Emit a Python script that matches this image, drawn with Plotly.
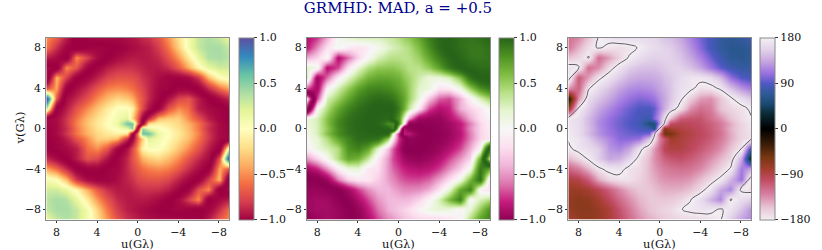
import numpy as np
import plotly.graph_objects as go
from plotly.colors import sample_colorscale
from plotly.colors import diverging

# grid of the uv plane, in G-lambda (finer around the origin)
u = [9, 8, 7, 6, 5, 4, 3, 2, 1, 0.5, 0, -0.5, -1, -2, -3, -4, -5, -6, -7, -8, -9]
v = [9, 8, 7, 6, 5, 4, 3, 2, 1, 0.5, 0, -0.5, -1, -2, -3, -4, -5, -6, -7, -8, -9]

# visibility phase, unwrapped to 0..360 degrees
# (180 is the white wrap line of the right panel)
phase = [
    [240, 228, 205, 178, 170, 165, 165, 165, 162, 160, 155, 150, 147, 135, 118, 100, 85, 72, 68, 72, 82],
    [235, 212, 190, 177, 187, 190, 186, 178, 168, 165, 162, 158, 155, 143, 125, 105, 85, 72, 66, 66, 72],
    [205, 195, 178, 240, 218, 195, 178, 165, 158, 157, 157, 158, 157, 150, 135, 118, 98, 80, 68, 66, 70],
    [168, 176, 240, 225, 190, 170, 155, 148, 147, 147, 150, 153, 157, 157, 148, 133, 113, 93, 80, 74, 74],
    [165, 250, 218, 185, 168, 153, 140, 135, 135, 137, 140, 147, 152, 163, 172, 172, 165, 145, 110, 90, 85],
    [225, 245, 183, 163, 148, 133, 123, 120, 123, 127, 133, 140, 150, 168, 172, 190, 188, 175, 150, 128, 115],
    [350, 225, 165, 150, 135, 120, 110, 103, 107, 113, 125, 135, 150, 172, 200, 220, 225, 205, 183, 165, 150],
    [290, 178, 155, 135, 120, 108, 97, 88, 88, 95, 118, 138, 160, 190, 225, 240, 233, 205, 195, 188, 175],
    [172, 165, 145, 125, 110, 100, 92, 85, 78, 105, 130, 170, 210, 250, 255, 255, 240, 225, 205, 190, 182],
    [172, 165, 145, 122, 108, 98, 90, 82, 55, 55, 125, 185, 260, 265, 262, 257, 248, 235, 215, 195, 184],
    [175, 165, 148, 125, 110, 100, 93, 88, 80, 60, 180, 300, 280, 272, 267, 260, 250, 235, 212, 195, 185],
    [176, 165, 145, 125, 112, 103, 98, 95, 100, 175, 235, 305, 305, 278, 270, 262, 252, 238, 215, 195, 188],
    [178, 170, 155, 135, 120, 105, 105, 110, 150, 190, 230, 255, 282, 275, 268, 260, 250, 235, 215, 195, 188],
    [185, 172, 165, 155, 127, 120, 135, 170, 200, 222, 242, 265, 272, 272, 263, 252, 240, 225, 205, 182, 70],
    [210, 195, 177, 155, 135, 140, 160, 188, 210, 225, 235, 247, 253, 257, 250, 240, 225, 210, 195, 135, 10],
    [245, 232, 210, 185, 172, 170, 188, 192, 210, 220, 227, 233, 237, 240, 237, 227, 212, 197, 177, 115, 135],
    [275, 270, 250, 215, 195, 188, 188, 197, 208, 213, 220, 223, 225, 225, 220, 207, 192, 175, 142, 110, 195],
    [286, 286, 280, 267, 247, 227, 212, 203, 203, 207, 210, 213, 213, 212, 205, 190, 170, 135, 120, 184, 192],
    [290, 294, 292, 280, 262, 242, 225, 210, 203, 202, 203, 203, 202, 195, 182, 165, 142, 120, 182, 165, 155],
    [288, 294, 294, 288, 275, 255, 235, 217, 205, 202, 198, 195, 192, 182, 174, 170, 173, 183, 170, 148, 125],
    [278, 288, 292, 288, 275, 260, 242, 225, 213, 210, 205, 200, 198, 195, 195, 195, 190, 182, 155, 132, 120],
]

uv_ticks = [8, 4, 0, -4, -8]
frac_ticks = [-1, -0.5, 0, 0.5, 1]
phase_ticks = [-180, -90, 0, 90, 180]

# colours of the phase colourbar, bottom to top
phase_colors = [
    (-180, "#f3eff3"), (-155, "#e8c4d4"), (-130, "#d882a2"), (-100, "#c04a62"), (-80, "#a63e30"),
    (-55, "#763610"), (-30, "#3a1c08"), (0, "#000000"), (30, "#0a2a34"), (50, "#1b4a72"),
    (70, "#2f5a98"), (90, "#4f58c4"), (110, "#9a70e0"), (135, "#c8a8e0"), (158, "#e4d4ea"), (180, "#f3eff3"),
]

SERIF = "DejaVu Serif"
GREY = "#8a8a8a"
TICK = dict(family=SERIF, size=11, color="#111")
LABEL = dict(family=SERIF, size=11.5, color="#111")


def wrapped_scale(func, scale):
    # colour of func(phase) along the unwrapped 0..360 range, so that bilinear
    # smoothing of the phase keeps the sharp folds of cos and sin
    angles = np.arange(0, 361, 3)
    pos = (func(np.radians(angles)) + 1) / 2
    cols = sample_colorscale(scale, list(np.clip(pos, 0, 1)))
    return [[a / 360, c] for a, c in zip(angles, cols)]


real_scale = wrapped_scale(np.cos, diverging.Spectral)
imag_scale = wrapped_scale(np.sin, diverging.PiYG)
bar_real = [[i / 10, c] for i, c in enumerate(diverging.Spectral)]
bar_imag = [[i / 10, c] for i, c in enumerate(diverging.PiYG)]

bar_phase = [[(p + 180) / 360, c] for p, c in phase_colors]
phase_scale = sorted([[(p if p >= 0 else p + 360) / 360, c] for p, c in phase_colors if p != -180])
phase_scale.append([1, "#000000"])

panels = [
    (46.3, 229, real_scale, bar_real, -1, 1, frac_ticks, 238.5),
    (307, 490, imag_scale, bar_imag, -1, 1, frac_ticks, 499),
    (568.3, 751, phase_scale, bar_phase, -180, 180, phase_ticks, 760),
]

W, H = 822, 250
top, bottom = 37.5, 219.5

fig = go.Figure()
layout = {}
for i, (x0, x1, scale, bar, lo, hi, ticks, bar_x) in enumerate(panels):
    sfx = "" if i == 0 else str(i + 1)
    fig.add_trace(go.Heatmap(
        x=u, y=v, z=phase, zmin=0, zmax=360, zsmooth="best", colorscale=scale, showscale=False,
        xaxis="x" + sfx, yaxis="y" + sfx,
    ))
    # empty trace that only carries the colourbar
    fig.add_trace(go.Scatter(
        x=[None], y=[None], mode="markers", xaxis="x" + sfx, yaxis="y" + sfx, showlegend=False,
        marker=dict(
            color=[0], cmin=lo, cmax=hi, colorscale=bar, showscale=True,
            colorbar=dict(
                x=bar_x / W, xanchor="left", y=1 - (top + bottom) / 2 / H, yanchor="middle",
                lenmode="pixels", len=bottom - top, thicknessmode="pixels", thickness=14.5,
                xpad=0, ypad=0, outlinecolor=GREY, outlinewidth=1, ticks="outside", ticklen=3,
                tickcolor="#333", tickwidth=1, tickvals=ticks,
                tickformat=".1f" if hi == 1 else "d", tickfont=TICK,
            ),
        ),
    ))
    axis = dict(
        tickvals=uv_ticks, ticks="outside", ticklen=2, tickcolor="#333", tickwidth=1,
        showline=True, linecolor=GREY, linewidth=1, mirror=True, showgrid=False, zeroline=False,
        tickfont=TICK,
    )
    layout["xaxis" + sfx] = dict(axis, range=[9, -9], domain=[x0 / W, x1 / W], anchor="y" + sfx)
    layout["yaxis" + sfx] = dict(axis, range=[-9, 9], domain=[1 - bottom / H, 1 - top / H], anchor="x" + sfx)
    fig.add_annotation(
        text="u(Gλ)", x=(x0 + x1) / 2 / W, y=1 - 243.5 / H, xref="paper", yref="paper",
        xanchor="center", yanchor="middle", showarrow=False, font=LABEL,
    )

fig.add_annotation(
    text="v(Gλ)", x=19 / W, y=1 - 128.5 / H, xref="paper", yref="paper", textangle=-90,
    xanchor="center", yanchor="middle", showarrow=False, font=LABEL,
)

# wrap line of the phase panel
fig.add_trace(go.Contour(
    x=u, y=v, z=phase, xaxis="x3", yaxis="y3", showscale=False, hoverinfo="skip",
    contours=dict(coloring="lines", start=180, end=180, size=1),
    colorscale=[[0, "#3a3344"], [1, "#3a3344"]],
    line=dict(width=0.8, smoothing=1.3),
))

fig.update_layout(
    width=W, height=H, margin=dict(l=0, r=0, t=0, b=0), paper_bgcolor="white", plot_bgcolor="white",
    showlegend=False,
    title=dict(
        text="GRMHD: MAD, a = +0.5", x=398 / W, xanchor="center", y=1 - 8 / H, yanchor="middle",
        font=dict(family=SERIF, size=15, color="#00008b"),
    ),
    **layout,
)

fig.write_html("out.html", config=dict(displayModeBar=False), post_script="document.body.style.margin='0';")
